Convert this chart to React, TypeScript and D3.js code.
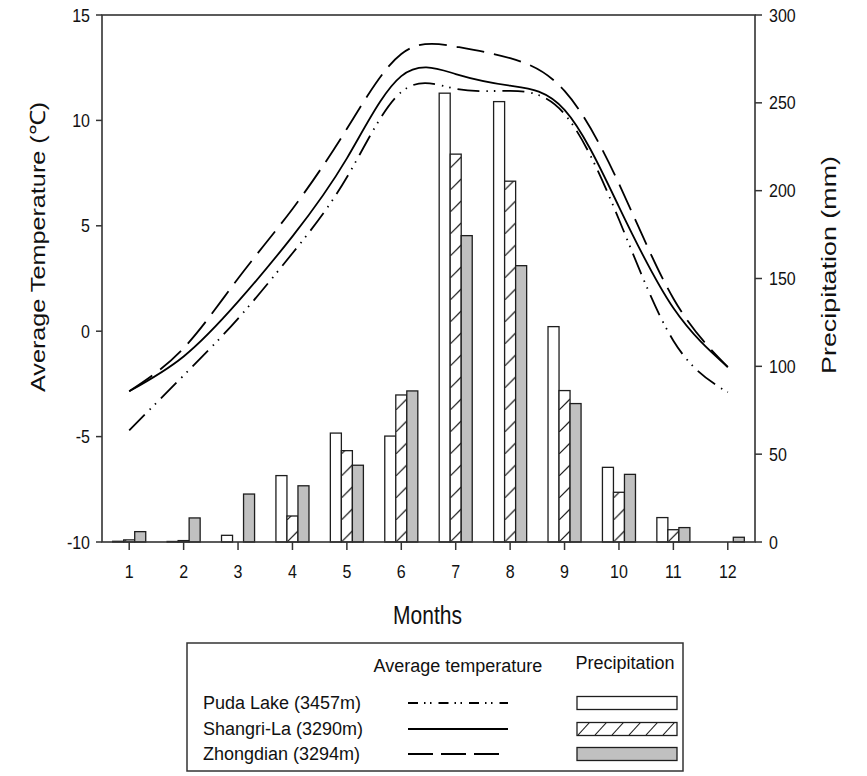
import * as d3 from "d3";

// monthly values
const months = [1, 2, 3, 4, 5, 6, 7, 8, 9, 10, 11, 12];
const tempPuda = [-4.7, -2.1, 0.6, 3.7, 7.3, 11.35, 11.5, 11.4, 10.3, 5.3, -0.45, -2.9];
const tempShangri = [-2.85, -1.2, 1.4, 4.5, 8.2, 12.1, 12.2, 11.65, 10.5, 5.9, 1.1, -1.7];
const tempZhong = [-2.85, -0.8, 2.5, 5.8, 9.6, 13.15, 13.5, 12.95, 11.4, 7.0, 1.55, -1.7];
const precPuda = [0.4, 0.3, 3.8, 37.8, 62, 60.3, 255.5, 250.7, 122.6, 42.5, 13.9, 0];
const precShangri = [1.2, 0.8, 0, 14.8, 52, 83.7, 220.8, 205.4, 86.2, 28.3, 7, 0];
const precZhong = [5.9, 13.7, 27.3, 32, 43.7, 86, 174.4, 157.3, 78.8, 38.5, 8.2, 2.7];
const tempTicks = [-10, -5, 0, 5, 10, 15];
const precTicks = [0, 50, 100, 150, 200, 250, 300];
const stations = ["Puda Lake (3457m)", "Shangri-La (3290m)", "Zhongdian (3294m)"];

const W = 867;
const H = 776;
const left = 102;
const right = 755;
const top = 15;
const bottom = 542;
const font = "'Liberation Sans', Arial, sans-serif";
const ink = "#1e1e1e";
const stretch = 1.2; // the figure is a bit taller than its fonts

export default function App() {
  const x = d3.scaleBand<number>().domain(months).range([left, right]);
  const sub = d3
    .scaleBand<string>()
    .domain(["puda", "shangri", "zhong"])
    .range([0, x.step()])
    .paddingOuter(0.97);
  const bw = sub.bandwidth();
  const yT = d3.scaleLinear().domain([-10, 15]).range([bottom, top]);
  const yP = d3.scaleLinear().domain([0, 300]).range([bottom, top]);
  const cx = (m: number) => (x(m) as number) + x.bandwidth() / 2;

  const line = d3
    .line<number>()
    .x((_, i) => cx(months[i]))
    .y((d) => yT(d))
    .curve(d3.curveNatural);

  const barSeries = [
    { key: "puda", values: precPuda, fill: "#ffffff" },
    { key: "shangri", values: precShangri, fill: "url(#hatch)" },
    { key: "zhong", values: precZhong, fill: "#c0c0c0" },
  ];
  const lineSeries = [
    { values: tempPuda, dash: "22,7,1.5,6,1.5,7" },
    { values: tempShangri, dash: "none" },
    { values: tempZhong, dash: "28,10" },
  ];

  const hatchX = (x(1) as number) + (sub("shangri") as number);

  // legend layout
  const lg = { x: 187, y: 643, w: 496, h: 128 };
  const rowY = [703, 729, 754];
  const legDash = ["10,6,1.5,4.5,1.5,7", "none", "25,8"];
  const legFill = ["#ffffff", "url(#hatchLeg)", "#c0c0c0"];

  return (
    <svg
      width={W}
      height={H}
      style={{ position: "absolute", left: 0, top: 0, background: "#fff" }}
      fontFamily={font}
    >
      <defs>
        <pattern id="hatch" patternUnits="userSpaceOnUse" x={hatchX} y={bottom} width={x.step()} height={22}>
          <rect width={x.step()} height={22} fill="#fff" />
          <path d={`M0,22L${bw},${22 - bw}`} stroke={ink} strokeWidth={1.2} />
        </pattern>
        <pattern id="hatchLeg" patternUnits="userSpaceOnUse" x={577} y={722} width={17} height={13}>
          <rect width={17} height={13} fill="#fff" />
          <path d="M1,13L13,0" stroke={ink} strokeWidth={1.1} />
        </pattern>
      </defs>

      {/* bars */}
      {barSeries.map((s) =>
        s.values.map((v, i) =>
          v > 0 ? (
            <rect
              key={s.key + i}
              x={(x(months[i]) as number) + (sub(s.key) as number)}
              y={yP(v)}
              width={bw}
              height={yP(0) - yP(v)}
              fill={s.fill}
              stroke={ink}
              strokeWidth={1.3}
            />
          ) : null
        )
      )}

      {/* temperature curves */}
      {lineSeries.map((s, i) => (
        <path
          key={i}
          d={line(s.values) as string}
          fill="none"
          stroke="#000"
          strokeWidth={1.8}
          strokeDasharray={s.dash}
        />
      ))}

      {/* frame */}
      <rect x={left} y={top} width={right - left} height={bottom - top} fill="none" stroke="#333" strokeWidth={1.6} />

      {/* left axis */}
      {tempTicks.map((t) => (
        <g key={"lt" + t}>
          <line x1={left - 6} x2={left} y1={yT(t)} y2={yT(t)} stroke="#333" strokeWidth={1.5} />
          <text
            transform={`translate(${left - 12},${yT(t)}) scale(1,${stretch})`}
            textAnchor="end"
            dominantBaseline="central"
            fontSize={16}
            fill="#111"
          >
            {t}
          </text>
        </g>
      ))}

      {/* right axis */}
      {precTicks.map((t) => (
        <g key={"rt" + t}>
          <line x1={right} x2={right + 7} y1={yP(t)} y2={yP(t)} stroke="#333" strokeWidth={1.5} />
          <text
            transform={`translate(${right + 14},${yP(t)}) scale(1,${stretch})`}
            textAnchor="start"
            dominantBaseline="central"
            fontSize={16}
            fill="#111"
          >
            {t}
          </text>
        </g>
      ))}

      {/* bottom axis */}
      {months.map((m) => (
        <g key={"bt" + m}>
          <line x1={cx(m)} x2={cx(m)} y1={bottom} y2={bottom + 8} stroke="#333" strokeWidth={1.5} />
          <text
            transform={`translate(${cx(m)},${571}) scale(1,${stretch})`}
            textAnchor="middle"
            dominantBaseline="central"
            fontSize={16}
            fill="#111"
          >
            {m}
          </text>
        </g>
      ))}

      {/* axis titles */}
      <text
        transform={`translate(${(left + right) / 2 - 1},${615}) scale(1,${stretch})`}
        textAnchor="middle"
        dominantBaseline="central"
        fontSize={21}
        fill="#111"
      >
        Months
      </text>
      <text
        transform={`translate(38,${247}) rotate(-90) scale(${stretch},1)`}
        textAnchor="middle"
        dominantBaseline="central"
        fontSize={21}
        fill="#111"
      >
        Average Temperature (℃)
      </text>
      <text
        transform={`translate(829,${265}) rotate(-90) scale(1.28,1)`}
        textAnchor="middle"
        dominantBaseline="central"
        fontSize={21}
        fill="#111"
      >
        Precipitation (mm)
      </text>

      {/* legend */}
      <rect x={lg.x} y={lg.y} width={lg.w} height={lg.h} fill="#fff" stroke="#333" strokeWidth={1.5} />
      <text x={458} y={666} textAnchor="middle" dominantBaseline="central" fontSize={18} fill="#111">
        Average temperature
      </text>
      <text x={625} y={663} textAnchor="middle" dominantBaseline="central" fontSize={18} fill="#111">
        Precipitation
      </text>
      {stations.map((name, i) => (
        <g key={name}>
          <text x={203} y={rowY[i]} dominantBaseline="central" fontSize={18} fill="#111">
            {name}
          </text>
          <line
            x1={408}
            x2={i === 2 ? 500 : 508}
            y1={rowY[i]}
            y2={rowY[i]}
            stroke="#000"
            strokeWidth={1.8}
            strokeDasharray={legDash[i]}
          />
          <rect
            x={577}
            y={rowY[i] - 6.5}
            width={100}
            height={13}
            fill={legFill[i]}
            stroke={ink}
            strokeWidth={1.3}
          />
        </g>
      ))}
    </svg>
  );
}
